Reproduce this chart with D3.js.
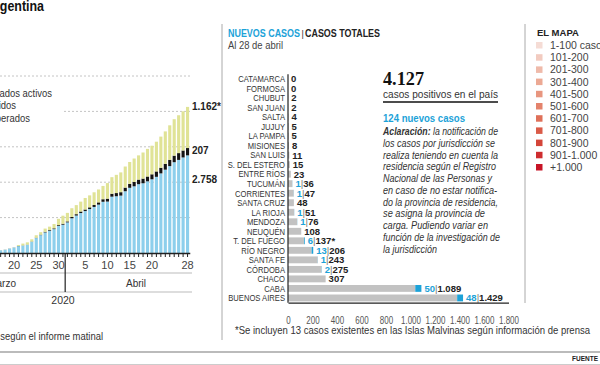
<!DOCTYPE html>
<html>
<head>
<meta charset="utf-8">
<script src="https://d3js.org/d3.v7.min.js"></script>
<style>
body { margin: 0; background: #fff; }
svg { display: block; font-family: "Liberation Sans", Arial, sans-serif; }
</style>
</head>
<body>
<div id="chart"></div>
<script>
// ---- evolucion diaria (17 de marzo al 28 de abril) ----
var inicio = new Date(2020, 2, 17), fin = new Date(2020, 3, 29);
var totalCasos = [79, 97, 128, 158, 225, 266, 301, 387, 502, 589, 690, 745, 820, 966, 1054,
    1133, 1265, 1353, 1451, 1554, 1628, 1715, 1795, 1894, 1975, 2142, 2208, 2277, 2443,
    2571, 2669, 2758, 2839, 2941, 3031, 3144, 3288, 3435, 3607, 3780, 3892, 4003, 4127];
var fallecidos = [2, 2, 3, 3, 4, 4, 4, 6, 8, 12, 17, 19, 23, 24, 27,
    28, 36, 39, 43, 44, 48, 56, 63, 72, 82, 83, 90, 97, 102,
    111, 122, 129, 132, 136, 141, 152, 159, 165, 176, 185, 192, 197, 207];
var recuperados = [3, 3, 3, 3, 27, 52, 63, 63, 72, 72, 91, 96, 123, 179, 228,
    240, 248, 256, 279, 325, 338, 358, 365, 375, 440, 468, 515, 559, 596,
    618, 663, 685, 737, 780, 808, 840, 880, 916, 976, 1030, 1070, 1107, 1162];
var diasConEtiqueta = ["2020-03-20", "2020-03-25", "2020-03-30", "2020-04-05",
    "2020-04-10", "2020-04-15", "2020-04-20", "2020-04-28"];
var leyendaEvolucion = ["Casos confirmados activos", "Fallecidos", "Recuperados"];
var ticksEvolucion = [1000, 2000, 3000, 4000, 5000];

// ---- casos por provincia ----
var provincias = ["CATAMARCA", "FORMOSA", "CHUBUT", "SAN JUAN", "SALTA", "JUJUY", "LA PAMPA",
    "MISIONES", "SAN LUIS", "S. DEL ESTERO", "ENTRE RÍOS", "TUCUMÁN", "CORRIENTES",
    "SANTA CRUZ", "LA RIOJA", "MENDOZA", "NEUQUÉN", "T. DEL FUEGO", "RÍO NEGRO",
    "SANTA FE", "CÓRDOBA", "CHACO", "CABA", "BUENOS AIRES"];
var totales = [0, 0, 2, 2, 4, 5, 5, 8, 11, 15, 23, 36, 47, 48, 51, 76, 108, 137, 206, 243, 275, 307, 1089, 1429];
var nuevos = [0, 0, 0, 0, 0, 0, 0, 0, 0, 0, 0, 1, 1, 0, 1, 1, 0, 6, 13, 1, 2, 0, 50, 48];
var ticksProvincias = [0, 200, 400, 600, 800, 1000, 1200, 1400, 1600, 1800];

// ---- leyenda del mapa ----
var rangosMapa = ["1-100 casos", "101-200", "201-300", "301-400", "401-500", "501-600",
    "601-700", "701-800", "801-900", "901-1.000", "+1.000"];
var coloresMapa = ["#f5dcd5", "#f2cbc0", "#efbaaa", "#eca994", "#e8967f", "#e4836c",
    "#df7059", "#da5b48", "#d44539", "#ce2d2f", "#c71426"];

var azul = "#1ca2d8";
var fmt = d3.formatLocale({decimal: ",", thousands: ".", grouping: [3], currency: ["$", ""]}).format(",d");

var svg = d3.select("#chart").append("svg")
    .attr("width", 600)
    .attr("height", 365);

// hay version angosta de la fuente?
var hayNarrow = (function() {
    var t = svg.append("text").style("font", "10px 'Liberation Sans Narrow', monospace").text("ABCDEFGHIJ abc");
    var a = t.node().getComputedTextLength();
    t.style("font", "10px monospace");
    var b = t.node().getComputedTextLength();
    t.remove();
    return a !== b;
})();

// comprime horizontalmente un texto manteniendo su punto de anclaje
function comprimir(sel, f) {
    sel.each(function() {
        var t = d3.select(this);
        var x = +t.attr("x") || 0, y = +t.attr("y") || 0;
        t.attr("x", 0).attr("y", 0)
            .attr("transform", "translate(" + x + "," + y + ") scale(" + f + ",1)");
    });
}

function angosta(sel) {
    if (hayNarrow) sel.style("font-family", "'Liberation Sans Narrow'");
    else comprimir(sel, 0.82);
}

// ================= panel izquierdo =================
var izq = svg.append("g");
var fechas = d3.timeDay.range(inicio, fin);
var clave = d3.timeFormat("%Y-%m-%d");

var tabla = fechas.map(function(f, i) {
    return {
        fecha: clave(f),
        activos: totalCasos[i] - fallecidos[i] - recuperados[i],
        fallecidos: fallecidos[i],
        recuperados: recuperados[i]
    };
});

var x = d3.scaleBand()
    .domain(tabla.map(function(d) { return d.fecha; }))
    .range([-1.575, -1.575 + tabla.length * 4.45])
    .paddingInner(0.3)
    .paddingOuter(0.15);
var y = d3.scaleLinear().domain([0, 5000]).range([253, 76]);

izq.selectAll(".grid").data(ticksEvolucion).join("line")
    .attr("x1", 0).attr("x2", 190)
    .attr("y1", function(d) { return y(d); })
    .attr("y2", function(d) { return y(d); })
    .attr("stroke", "#c4c4c4")
    .attr("stroke-dasharray", "2,2");

var series = d3.stack().keys(["activos", "fallecidos", "recuperados"])(tabla);
var colores = {activos: "#8dcfec", fallecidos: "#141414", recuperados: "#e0e396"};

izq.selectAll(".serie").data(series).join("g")
    .attr("fill", function(d) { return colores[d.key]; })
    .selectAll("rect").data(function(d) { return d; }).join("rect")
    .attr("x", function(d) { return x(d.data.fecha); })
    .attr("width", x.bandwidth())
    .attr("y", function(d) { return y(d[1]); })
    .attr("height", function(d) { return y(d[0]) - y(d[1]); });

// leyenda (cortada a la izquierda)
izq.append("rect").attr("x", 0).attr("y", 85).attr("width", 62).attr("height", 40).attr("fill", "#fff");
var ley = izq.selectAll(".ley").data(leyendaEvolucion).join("text")
    .attr("x", function(d, i) { return [52, 16, 30][i]; })
    .attr("y", function(d, i) { return 97 + i * 12.3; })
    .attr("text-anchor", "end")
    .style("font-size", "11px")
    .attr("fill", "#333")
    .text(function(d) { return d; });
comprimir(ley, 0.86);

// eje x
var ejeX = izq.append("g")
    .attr("transform", "translate(0,253)")
    .call(d3.axisBottom(x).tickSize(4).tickSizeOuter(0).tickPadding(4)
        .tickFormat(function(d) { return diasConEtiqueta.indexOf(d) >= 0 ? +d.slice(8) : ""; }));
ejeX.select(".domain").attr("stroke", "#222").attr("stroke-width", 1.5);
ejeX.selectAll(".tick line").attr("stroke", "#222");
ejeX.selectAll("text").style("font-size", "11px").style("font-family", "'Liberation Sans', Arial, sans-serif").attr("fill", "#444");

var ultimo = tabla[tabla.length - 1];
var finales = [
    {t: fmt(ultimo.recuperados) + "*", y: y(totalCasos[totalCasos.length - 1]) + 3},
    {t: fmt(ultimo.fallecidos), y: y(ultimo.activos + ultimo.fallecidos) + 6},
    {t: fmt(ultimo.activos), y: y(ultimo.activos) + 28}
];
izq.selectAll(".fin").data(finales).join("text")
    .attr("x", 192)
    .attr("y", function(d) { return d.y; })
    .style("font-size", "10px").style("font-weight", "bold")
    .attr("fill", "#222")
    .text(function(d) { return d.t; });

var corte = x(clave(new Date(2020, 3, 1))) - x.step() * 0.15;
izq.append("line").attr("x1", 0).attr("x2", 192).attr("y1", 273).attr("y2", 273).attr("stroke", "#bbb");
izq.append("line").attr("x1", 0).attr("x2", 192).attr("y1", 292).attr("y2", 292).attr("stroke", "#bbb");
izq.append("line").attr("x1", corte).attr("x2", corte).attr("y1", 253).attr("y2", 292).attr("stroke", "#222").attr("stroke-width", 1.2);
izq.append("text").attr("x", 16).attr("y", 287).attr("text-anchor", "end").style("font-size", "10px").attr("fill", "#333").text("Marzo");
izq.append("text").attr("x", 136).attr("y", 287).attr("text-anchor", "middle").style("font-size", "10px").attr("fill", "#333").text("Abril");
izq.append("text").attr("x", 63).attr("y", 304).attr("text-anchor", "middle").style("font-size", "10.5px").attr("fill", "#333").text("2020");

izq.append("text").attr("x", 44).attr("y", 11).attr("text-anchor", "end")
    .attr("textLength", 58).attr("lengthAdjust", "spacingAndGlyphs")
    .style("font-size", "14px").style("font-weight", "bold").attr("fill", "#111").text("Argentina");
var nota = izq.append("text").attr("x", 103).attr("y", 340).attr("text-anchor", "end")
    .style("font-size", "10.5px").attr("fill", "#333").text("*Datos según el informe matinal");
comprimir(nota, 0.9);

// ================= panel central =================
var med = svg.append("g");
med.append("line").attr("x1", 222).attr("x2", 222).attr("y1", 24).attr("y2", 340).attr("stroke", "#aaa");

med.append("text").attr("x", 228).attr("y", 37).attr("textLength", 72).attr("lengthAdjust", "spacingAndGlyphs")
    .style("font-size", "10px").style("font-weight", "bold").attr("fill", azul).text("NUEVOS CASOS");
med.append("text").attr("x", 301.5).attr("y", 37).style("font-size", "9px").attr("fill", "#333").text("|");
med.append("text").attr("x", 305).attr("y", 37).attr("textLength", 75).attr("lengthAdjust", "spacingAndGlyphs")
    .style("font-size", "10px").style("font-weight", "bold").attr("fill", "#222").text("CASOS TOTALES");
med.append("text").attr("x", 228).attr("y", 49).attr("textLength", 55).attr("lengthAdjust", "spacingAndGlyphs")
    .style("font-size", "10.5px").attr("fill", "#444").text("Al 28 de abril");

var filas = provincias.map(function(p, i) {
    return {prov: p, total: totales[i], nuevo: nuevos[i], nota: p === "T. DEL FUEGO" ? "*" : ""};
});

var yb = d3.scaleBand().domain(provincias).range([74.2, 302.7]).paddingInner(0.28).paddingOuter(0.14);
var xb = d3.scaleLinear().domain([0, 1800]).range([288, 508.5]);

med.selectAll(".gris").data(filas).join("rect")
    .attr("x", xb(0))
    .attr("y", function(d) { return yb(d.prov); })
    .attr("width", function(d) { return xb(d.total - d.nuevo) - xb(0); })
    .attr("height", yb.bandwidth())
    .attr("fill", "#c2c2c2");
med.selectAll(".azul").data(filas.filter(function(d) { return d.nuevo > 0; })).join("rect")
    .attr("x", function(d) { return xb(d.total - d.nuevo); })
    .attr("y", function(d) { return yb(d.prov); })
    .attr("width", function(d) { return xb(d.total) - xb(d.total - d.nuevo); })
    .attr("height", yb.bandwidth())
    .attr("fill", azul);

var rot = med.selectAll(".prov").data(filas).join("text")
    .attr("x", 285)
    .attr("y", function(d) { return yb(d.prov) + yb.bandwidth() / 2 + 3.3; })
    .attr("text-anchor", "end")
    .style("font-size", "9.3px")
    .attr("fill", "#333")
    .text(function(d) { return d.prov; });
angosta(rot);

var val = med.selectAll(".val").data(filas).join("text")
    .attr("x", function(d) { return xb(d.total) + 3; })
    .attr("y", function(d) { return yb(d.prov) + yb.bandwidth() / 2 + 3.4; })
    .style("font-size", "9.5px")
    .style("font-weight", "bold");
val.each(function(d) {
    var t = d3.select(this);
    if (d.nuevo > 0) {
        t.append("tspan").attr("fill", azul).text(d.nuevo);
        t.append("tspan").attr("fill", "#777").style("font-weight", "normal").text("|");
    }
    t.append("tspan").attr("fill", "#222").text(fmt(d.total) + d.nota);
});

var ejeP = med.append("g")
    .attr("transform", "translate(0," + yb.range()[1] + ")")
    .call(d3.axisBottom(xb).tickValues(ticksProvincias).tickSize(0).tickPadding(14).tickFormat(fmt));
ejeP.select(".domain").attr("stroke", "#222").attr("stroke-width", 1.2);
var tp = ejeP.selectAll("text").style("font-size", "10px").style("font-family", "'Liberation Sans', Arial, sans-serif").attr("fill", "#555");
comprimir(tp, 0.8);
med.append("line").attr("x1", xb(0)).attr("x2", xb(0))
    .attr("y1", yb.range()[0]).attr("y2", yb.range()[1])
    .attr("stroke", "#222").attr("stroke-width", 1.2);

med.append("text").attr("x", 235).attr("y", 334).attr("textLength", 355).attr("lengthAdjust", "spacingAndGlyphs")
    .style("font-size", "10.5px").attr("fill", "#333")
    .text("*Se incluyen 13 casos existentes en las Islas Malvinas según información de prensa");

// bloque de texto
med.append("text").attr("x", 383).attr("y", 85).attr("textLength", 41).attr("lengthAdjust", "spacingAndGlyphs")
    .style("font-family", "'Liberation Serif', serif").style("font-size", "19px").style("font-weight", "bold")
    .attr("fill", "#111").text(fmt(d3.sum(totales)));
med.append("text").attr("x", 383).attr("y", 97.5).attr("textLength", 115).attr("lengthAdjust", "spacingAndGlyphs")
    .style("font-size", "10.5px").attr("fill", "#333").text("casos positivos en el país");
med.append("line").attr("x1", 383).attr("x2", 498).attr("y1", 102).attr("y2", 102).attr("stroke", "#111").attr("stroke-width", 1.3);
med.append("text").attr("x", 383).attr("y", 122).attr("textLength", 82).attr("lengthAdjust", "spacingAndGlyphs")
    .style("font-size", "10.5px").style("font-weight", "bold").attr("fill", azul)
    .text(d3.sum(nuevos) + " nuevos casos");

var parrafo = ["la notificación de", "los casos por jurisdicción se", "realiza teniendo en cuenta la",
    "residencia según el Registro", "Nacional de las Personas y", "en caso de no estar notifica-",
    "do la provincia de residencia,", "se asigna la provincia de", "carga. Pudiendo variar en",
    "función de la investigación de", "la jurisdicción"];
var anchos = [115, 112, 115, 113, 109, 114, 115, 102, 105, 117, 54];
med.selectAll(".par").data(parrafo).join("text")
    .attr("x", 383)
    .attr("y", function(d, i) { return 135 + i * 11.75; })
    .attr("textLength", function(d, i) { return anchos[i]; })
    .attr("lengthAdjust", "spacingAndGlyphs")
    .style("font-size", "10px").style("font-style", "italic")
    .attr("fill", "#333")
    .each(function(d, i) {
        var t = d3.select(this);
        if (i === 0) {
            t.append("tspan").style("font-weight", "bold").text("Aclaración:");
            t.append("tspan").text(" " + d);
        } else {
            t.text(d);
        }
    });

// ================= panel derecho =================
var der = svg.append("g");
der.append("line").attr("x1", 525).attr("x2", 525).attr("y1", 24).attr("y2", 303).attr("stroke", "#aaa");
der.append("text").attr("x", 537).attr("y", 36).style("font-size", "9.5px").style("font-weight", "bold")
    .attr("fill", "#222").text("EL MAPA");
der.selectAll(".cuad").data(coloresMapa).join("rect")
    .attr("x", 536).attr("y", function(d, i) { return 42 + i * 12.2; })
    .attr("width", 6.5).attr("height", 6.5)
    .attr("fill", function(d) { return d; });
der.selectAll(".rango").data(rangosMapa).join("text")
    .attr("x", 550).attr("y", function(d, i) { return 49 + i * 12.2; })
    .style("font-size", "10.5px").attr("fill", "#444")
    .text(function(d) { return d; });

// pie
svg.append("line").attr("x1", 0).attr("x2", 600).attr("y1", 352).attr("y2", 352).attr("stroke", "#bbb").attr("stroke-width", 2);
svg.append("line").attr("x1", 0).attr("x2", 600).attr("y1", 364.5).attr("y2", 364.5).attr("stroke", "#ccc");
svg.append("text").attr("x", 598).attr("y", 360.5).attr("text-anchor", "end")
    .style("font-size", "6.5px").style("font-weight", "bold").attr("fill", "#222").text("FUENTE");
</script>
</body>
</html>
